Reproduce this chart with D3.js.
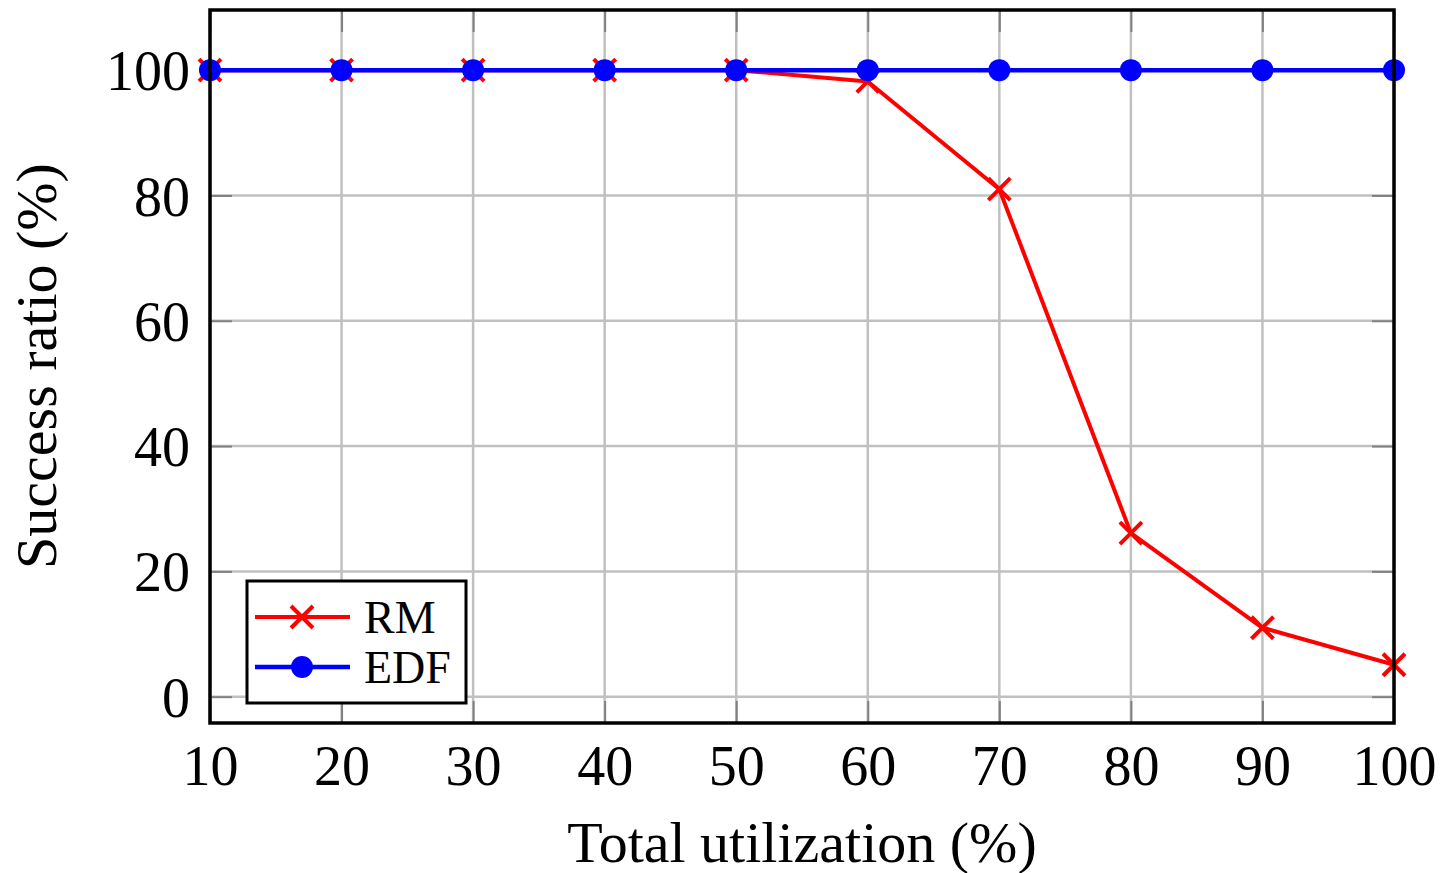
<!DOCTYPE html>
<html>
<head>
<meta charset="utf-8">
<script src="https://cdn.jsdelivr.net/npm/d3@7"></script>
<style>
  body { margin: 0; background: #fff; overflow: hidden; }
  svg { display: block; }
  text { font-family: "Liberation Serif", "DejaVu Serif", serif; fill: #000; }
</style>
</head>
<body>
<svg id="chart" width="1443" height="873"></svg>
<script>
// DATA
var utilization = [10, 20, 30, 40, 50, 60, 70, 80, 90, 100];
var rmRatio = [100, 100, 100, 100, 100, 98.2, 81, 26.1, 11, 5.1];
var edfRatio = [100, 100, 100, 100, 100, 100, 100, 100, 100, 100];
var xTicks = [10, 20, 30, 40, 50, 60, 70, 80, 90, 100];
var yTicks = [0, 20, 40, 60, 80, 100];

// BOUNDS
var margin = {top: 10, right: 49, bottom: 150, left: 210},
	innerWidth = 1443 - margin.left - margin.right,
	innerHeight = 873 - margin.top - margin.bottom;

// SCALE
var xScale = d3.scaleLinear().domain([10, 100]).range([0, innerWidth]);
var yScale = d3.scaleLinear().domain([-4.2, 109.6]).range([innerHeight, 0]);

var svg = d3.select('#chart');
var g = svg.append('g')
	.attr('transform', 'translate(' + margin.left + ',' + margin.top + ')');

// grid
g.append('g').selectAll('line').data(xTicks).enter().append('line')
	.attr('x1', function(d) { return xScale(d); })
	.attr('x2', function(d) { return xScale(d); })
	.attr('y1', 0).attr('y2', innerHeight)
	.attr('stroke', '#c0c0c0').attr('stroke-width', 2.5);
g.append('g').selectAll('line').data(yTicks).enter().append('line')
	.attr('y1', function(d) { return yScale(d); })
	.attr('y2', function(d) { return yScale(d); })
	.attr('x1', 0).attr('x2', innerWidth)
	.attr('stroke', '#c0c0c0').attr('stroke-width', 2.5);

// inner tick marks on all four sides (no labels)
var tickLen = 22;
var tickColor = '#808080';
function styleTicks(a) {
	a.select('.domain').remove();
	a.selectAll('text').remove();
	a.selectAll('line').attr('stroke', tickColor).attr('stroke-width', 2);
}
g.append('g').call(d3.axisBottom(xScale).tickValues(xTicks).tickSize(tickLen))
	.attr('transform', 'translate(0,' + (innerHeight - tickLen) + ')')
	.call(styleTicks);
g.append('g').call(d3.axisBottom(xScale).tickValues(xTicks).tickSize(tickLen))
	.call(styleTicks);
g.append('g').call(d3.axisRight(yScale).tickValues(yTicks).tickSize(tickLen))
	.call(styleTicks);
g.append('g').call(d3.axisRight(yScale).tickValues(yTicks).tickSize(tickLen))
	.attr('transform', 'translate(' + (innerWidth - tickLen) + ',0)')
	.call(styleTicks);

// tick labels
var xAxis = g.append('g')
	.attr('transform', 'translate(0,' + innerHeight + ')')
	.call(d3.axisBottom(xScale).tickValues(xTicks).tickSize(0).tickPadding(22));
xAxis.select('.domain').remove();
xAxis.selectAll('text').style('font-size', '56px');

var yAxis = g.append('g')
	.call(d3.axisLeft(yScale).tickValues(yTicks).tickSize(0).tickPadding(20));
yAxis.select('.domain').remove();
yAxis.selectAll('text').style('font-size', '56px').attr('dy', '0.35em');

// lines
var line = d3.line()
	.x(function(d, i) { return xScale(utilization[i]); })
	.y(function(d) { return yScale(d); });

g.append('path').datum(rmRatio)
	.attr('fill', 'none').attr('stroke', '#ff0000').attr('stroke-width', 4)
	.attr('stroke-linejoin', 'round')
	.attr('d', line);

var cross = 11;
g.append('g').selectAll('path').data(rmRatio).enter().append('path')
	.attr('d', function(d, i) {
		var x = xScale(utilization[i]), y = yScale(d);
		return 'M' + (x - cross) + ',' + (y - cross) + 'L' + (x + cross) + ',' + (y + cross) +
			'M' + (x - cross) + ',' + (y + cross) + 'L' + (x + cross) + ',' + (y - cross);
	})
	.attr('stroke', '#ff0000').attr('stroke-width', 4).attr('fill', 'none');

g.append('path').datum(edfRatio)
	.attr('fill', 'none').attr('stroke', '#0000ff').attr('stroke-width', 4.5)
	.attr('d', line);

g.append('g').selectAll('circle').data(edfRatio).enter().append('circle')
	.attr('cx', function(d, i) { return xScale(utilization[i]); })
	.attr('cy', function(d) { return yScale(d); })
	.attr('r', 11)
	.attr('fill', '#0000ff');

// frame
g.append('rect')
	.attr('width', innerWidth).attr('height', innerHeight)
	.attr('fill', 'none').attr('stroke', '#000').attr('stroke-width', 3.5);

// legend
var legend = g.append('g').attr('transform', 'translate(37,571)');
legend.append('rect')
	.attr('width', 219).attr('height', 122)
	.attr('fill', '#fff').attr('stroke', '#000').attr('stroke-width', 3);
var rmRow = legend.append('g').attr('transform', 'translate(0,36)');
rmRow.append('line').attr('x1', 8).attr('x2', 103).attr('stroke', '#ff0000').attr('stroke-width', 4);
rmRow.append('path')
	.attr('d', 'M' + (55 - cross) + ',' + (-cross) + 'L' + (55 + cross) + ',' + cross +
		'M' + (55 - cross) + ',' + cross + 'L' + (55 + cross) + ',' + (-cross))
	.attr('stroke', '#ff0000').attr('stroke-width', 4);
rmRow.append('text').attr('x', 117).attr('dy', '0.35em').style('font-size', '46px').text('RM');
var edfRow = legend.append('g').attr('transform', 'translate(0,86)');
edfRow.append('line').attr('x1', 8).attr('x2', 103).attr('stroke', '#0000ff').attr('stroke-width', 4.5);
edfRow.append('circle').attr('cx', 55).attr('r', 11).attr('fill', '#0000ff');
edfRow.append('text').attr('x', 117).attr('dy', '0.35em').style('font-size', '46px').text('EDF');

// axis titles
svg.append('text')
	.attr('x', 802).attr('y', 862)
	.attr('text-anchor', 'middle').style('font-size', '58px')
	.text('Total utilization (%)');
svg.append('text')
	.attr('transform', 'translate(56,366) rotate(-90)')
	.attr('text-anchor', 'middle').style('font-size', '58px')
	.text('Success ratio (%)');
</script>
</body>
</html>
